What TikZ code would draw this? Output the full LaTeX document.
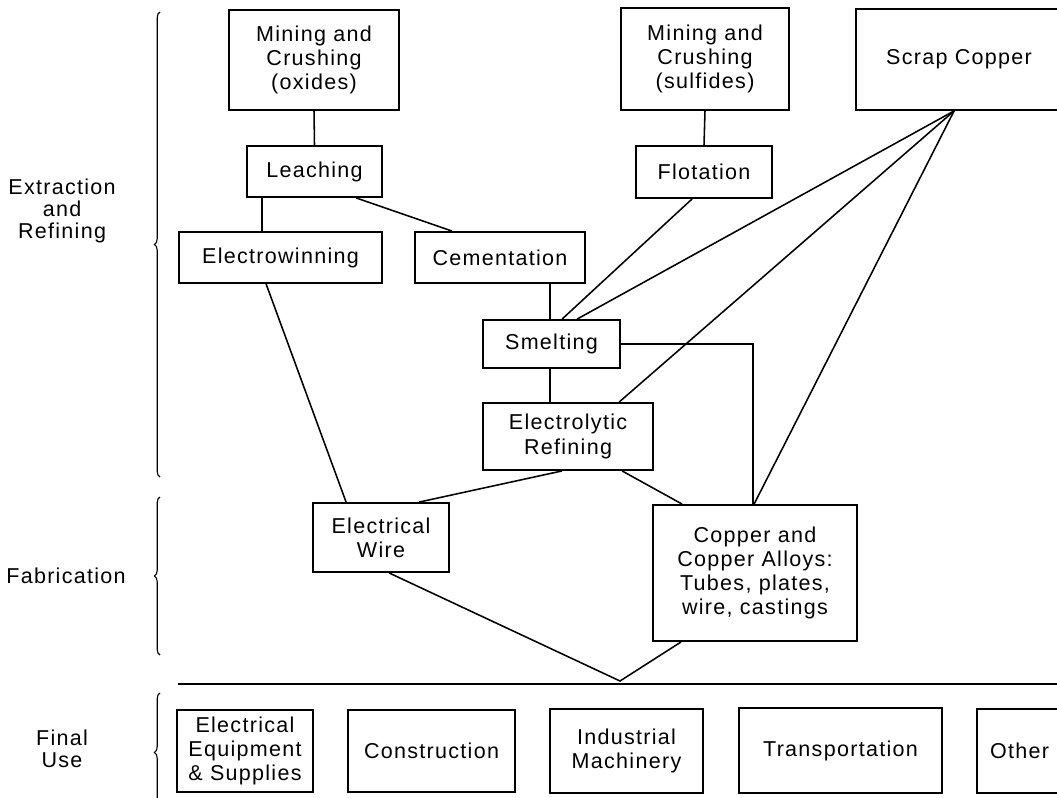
\documentclass[tikz,border=0pt]{standalone}
\usepackage{fontspec}
\setmainfont[LetterSpace=6]{Liberation Sans}
\usetikzlibrary{calc,decorations.pathreplacing}
\newcommand{\pix}{0.025cm}
% Kasten: Name, x1, y1, x2, y2, Text (Pixelkoordinaten)
\newcommand{\kasten}[6]{%
	\node[kasten, minimum width={(#4-#2)*\pix}, minimum height={(#5-#3)*\pix}]
		(#1) at ({(#2+#4)/2},{(#3+#5)/2}) {#6};}

\begin{document}
\begin{tikzpicture}[x=\pix,y=-\pix,line width=1.1pt,
	kasten/.style={draw,rectangle,line width=1.3pt,inner sep=0pt,align=center,
		font=\fontsize{15.3}{17.2}\selectfont},
	klammer/.style={decorate,decoration={brace,amplitude=4pt},line width=0.8pt},
	seite/.style={align=center,font=\fontsize{15.3}{15.8}\selectfont}]

\path[use as bounding box,clip] (0,0) rectangle (1057,797);

% Gewinnung und Raffination
\kasten{oxid}{229}{10}{399}{110}{Mining and\\Crushing\\(oxides)}
\kasten{sulfid}{621}{8}{789}{110}{Mining and\\Crushing\\(sulfides)}
\kasten{schrott}{856}{9}{1062}{110}{Scrap Copper}
\kasten{laugung}{247}{146}{382}{197}{Leaching}
\kasten{flotation}{636}{146}{772}{198}{Flotation}
\kasten{ew}{179}{232}{382}{283}{Electrowinning}
\kasten{zement}{415}{232}{585}{283}{Cementation}
\kasten{schmelze}{483}{320}{620}{368}{Smelting}
\kasten{raffination}{483}{403}{653}{470}{Electrolytic\\Refining}

% Verarbeitung
\kasten{draht}{313}{503}{449}{572}{Electrical\\Wire}
\kasten{legierung}{653}{505}{857}{641}{Copper and\\Copper Alloys:\\Tubes, plates,\\wire, castings}

% Endverbrauch
\kasten{geraete}{177}{710}{313}{792}{Electrical\\Equipment\\\& Supplies}
\kasten{bau}{348}{710}{515}{792}{Construction}
\kasten{maschinen}{550}{709}{703}{793}{Industrial\\Machinery}
\kasten{transport}{739}{708}{942}{793}{Transportation}
\kasten{sonstige}{977}{709}{1062}{793}{Other}

% Verbindungen
\draw (oxid.south) -- (laugung.north);
\draw ($(laugung.south west)+(16,0)$) -- ($(ew.north west)+(84,0)$);
\draw ($(laugung.south west)+(110,0)$) -- ($(zement.north west)+(38,0)$);
\draw (sulfid.south) -- (flotation.north);
\draw ($(flotation.south west)+(57,0)$) -- ($(schmelze.north west)+(80,0)$);
\draw ($(zement.south west)+(136,0)$) -- ($(schmelze.north west)+(68,0)$);
\draw ($(schmelze.south west)+(68,0)$) -- ($(raffination.north west)+(68,0)$);
\draw (schmelze.east) -| ($(legierung.north west)+(101,0)$);
\draw ($(ew.south west)+(88,0)$) -- ($(draht.north west)+(34,0)$);
\draw ($(raffination.south west)+(80,0)$) -- ($(draht.north west)+(107,0)$);
\draw ($(raffination.south west)+(140,0)$) -- ($(legierung.north west)+(30,0)$);

\coordinate (quelle) at ($(schrott.south west)+(99,0)$);
\draw (quelle) -- ($(schmelze.north west)+(95,0)$);
\draw (quelle) -- ($(raffination.north west)+(137,0)$);
\draw (quelle) -- ($(legierung.north west)+(102,0)$);

\coordinate (spitze) at (620,681);
\draw ($(draht.south west)+(77,0)$) -- (spitze) -- ($(legierung.south west)+(29,0)$);
\coordinate (linie links) at (178,684);
\coordinate (linie rechts) at (1062,684);
\draw (linie links) -- (linie rechts);

% Klammern links
\draw[klammer] (160,477) -- (160,12);
\draw[klammer] (160,655) -- (160,497);
\draw[klammer] (160,812) -- (160,693);
\node[seite] (gew) at (62,211) {Extraction\\and\\Refining};
\node[seite] (fab) at (66,576) {Fabrication};
\node[seite] (end) at (62,749) {Final\\Use};

\end{tikzpicture}
\end{document}
